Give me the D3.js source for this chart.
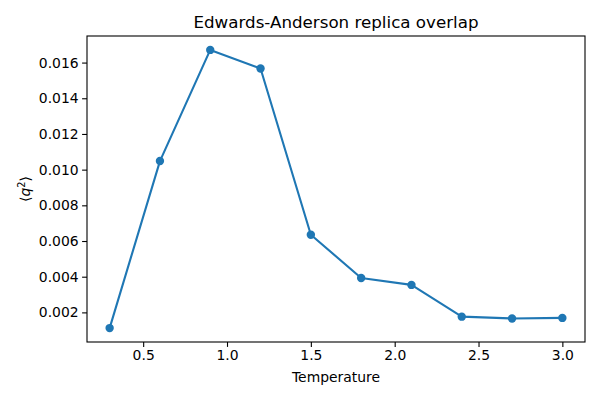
<!DOCTYPE html>
<html>
<head>
<meta charset="utf-8">
<script src="https://cdn.jsdelivr.net/npm/d3@7"></script>
<style>
  body { margin: 0; background: #fff; }
  svg { font-family: "DejaVu Sans", sans-serif; }
</style>
</head>
<body>
<svg id="chart" width="600" height="400"></svg>
<script>
const temperatures = [0.3, 0.6, 0.9, 1.2, 1.5, 1.8, 2.1, 2.4, 2.7, 3.0];
const overlap = [0.00112, 0.01048, 0.01671, 0.01567, 0.00635, 0.00393, 0.00354, 0.00176, 0.00166, 0.00169];
const xTicks = [0.5, 1.0, 1.5, 2.0, 2.5, 3.0];
const yTicks = [0.002, 0.004, 0.006, 0.008, 0.010, 0.012, 0.014, 0.016];

const width = 600;
const height = 400;
const margins = { top: 36, right: 15, bottom: 58, left: 87 };
const color = "#1f77b4";

const svg = d3.select("#chart");

// matplotlib style 5% padding around the data
const xPad = (d3.max(temperatures) - d3.min(temperatures)) * 0.05;
const yPad = (d3.max(overlap) - d3.min(overlap)) * 0.05;

const x = d3
  .scaleLinear()
  .domain([d3.min(temperatures) - xPad, d3.max(temperatures) + xPad])
  .range([margins.left, width - margins.right]);

const y = d3
  .scaleLinear()
  .domain([d3.min(overlap) - yPad, d3.max(overlap) + yPad])
  .range([height - margins.bottom, margins.top]);

const xAxis = svg
  .append("g")
  .attr("transform", `translate(0,${height - margins.bottom})`)
  .call(d3.axisBottom(x).tickValues(xTicks).tickFormat(d3.format(".1f")).tickSizeOuter(0).tickSize(4.9).tickPadding(3.5));

const yAxis = svg
  .append("g")
  .attr("transform", `translate(${margins.left},0)`)
  .call(d3.axisLeft(y).tickValues(yTicks).tickFormat(d3.format(".3f")).tickSizeOuter(0).tickSize(4.9).tickPadding(3.5));

[xAxis, yAxis].forEach((g) => {
  g.select(".domain").remove();
  g.selectAll(".tick line").attr("stroke", "#000").attr("stroke-width", 1.1);
  g.selectAll(".tick text").attr("fill", "#000").attr("font-size", "13.9px").attr("font-family", "DejaVu Sans");
});

// frame
svg
  .append("rect")
  .attr("x", margins.left)
  .attr("y", margins.top)
  .attr("width", width - margins.left - margins.right)
  .attr("height", height - margins.top - margins.bottom)
  .attr("fill", "none")
  .attr("stroke", "#000")
  .attr("stroke-width", 1.1);

const pts = temperatures.map((t, i) => ({ t: t, q: overlap[i] }));

svg
  .append("path")
  .datum(pts)
  .attr("fill", "none")
  .attr("stroke", color)
  .attr("stroke-width", 2.1)
  .attr("stroke-linejoin", "round")
  .attr("d", d3.line().x((d) => x(d.t)).y((d) => y(d.q)));

svg
  .selectAll(".dot")
  .data(pts)
  .enter()
  .append("circle")
  .attr("class", "dot")
  .attr("cx", (d) => x(d.t))
  .attr("cy", (d) => y(d.q))
  .attr("r", 4.2)
  .attr("fill", color);

svg
  .append("text")
  .attr("x", (margins.left + width - margins.right) / 2)
  .attr("y", 28)
  .attr("text-anchor", "middle")
  .attr("font-size", "16.7px")
  .text("Edwards-Anderson replica overlap");

svg
  .append("text")
  .attr("x", (margins.left + width - margins.right) / 2)
  .attr("y", 382)
  .attr("text-anchor", "middle")
  .attr("font-size", "13.9px")
  .text("Temperature");

const yl = svg
  .append("text")
  .attr("transform", `translate(30,${(margins.top + height - margins.bottom) / 2}) rotate(-90)`)
  .attr("text-anchor", "middle")
  .attr("font-size", "13.9px");
yl.append("tspan").text("⟨");
yl.append("tspan").attr("font-style", "italic").text("q");
yl.append("tspan").attr("font-size", "9.7px").attr("dy", -5).text("2");
yl.append("tspan").attr("dy", 5).text("⟩");
</script>
</body>
</html>
